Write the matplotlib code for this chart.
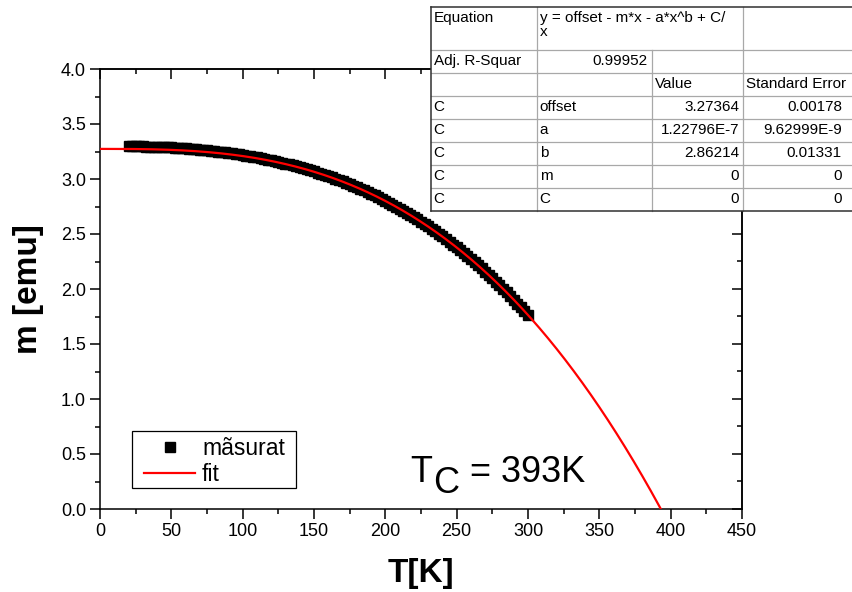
import numpy as np
import matplotlib.pyplot as plt
from matplotlib.ticker import MultipleLocator, AutoMinorLocator

plt.rcParams['font.family'] = ['Liberation Sans', 'DejaVu Sans']

# measured magnetisation vs temperature (every 2.5 K)
T_meas = [20, 22.5, 25, 27.5, 30, 32.5, 35, 37.5, 40, 42.5, 45, 47.5, 50,
          52.5, 55, 57.5, 60, 62.5, 65, 67.5, 70, 72.5, 75, 77.5, 80, 82.5,
          85, 87.5, 90, 92.5, 95, 97.5, 100, 102.5, 105, 107.5, 110, 112.5,
          115, 117.5, 120, 122.5, 125, 127.5, 130, 132.5, 135, 137.5, 140,
          142.5, 145, 147.5, 150, 152.5, 155, 157.5, 160, 162.5, 165, 167.5,
          170, 172.5, 175, 177.5, 180, 182.5, 185, 187.5, 190, 192.5, 195,
          197.5, 200, 202.5, 205, 207.5, 210, 212.5, 215, 217.5, 220, 222.5,
          225, 227.5, 230, 232.5, 235, 237.5, 240, 242.5, 245, 247.5, 250,
          252.5, 255, 257.5, 260, 262.5, 265, 267.5, 270, 272.5, 275, 277.5,
          280, 282.5, 285, 287.5, 290, 292.5, 295, 297.5, 300]
m_meas = [3.298, 3.297, 3.297, 3.296, 3.296, 3.295, 3.295, 3.294, 3.293,
          3.292, 3.291, 3.290, 3.288, 3.286, 3.284, 3.282, 3.280, 3.277,
          3.274, 3.271, 3.268, 3.264, 3.261, 3.257, 3.254, 3.250, 3.246,
          3.242, 3.238, 3.233, 3.229, 3.224, 3.219, 3.213, 3.208, 3.202,
          3.196, 3.190, 3.183, 3.176, 3.169, 3.162, 3.155, 3.147, 3.140,
          3.132, 3.124, 3.115, 3.107, 3.098, 3.089, 3.079, 3.070, 3.059,
          3.049, 3.038, 3.027, 3.015, 3.004, 2.991, 2.979, 2.966, 2.953,
          2.939, 2.926, 2.911, 2.897, 2.882, 2.867, 2.851, 2.835, 2.818,
          2.802, 2.784, 2.767, 2.749, 2.731, 2.712, 2.693, 2.673, 2.653,
          2.632, 2.612, 2.590, 2.569, 2.546, 2.524, 2.501, 2.478, 2.453,
          2.429, 2.404, 2.379, 2.353, 2.327, 2.299, 2.272, 2.244, 2.216,
          2.187, 2.158, 2.127, 2.097, 2.066, 2.035, 2.002, 1.970, 1.936,
          1.903, 1.868, 1.834, 1.798, 1.762]

# fit parameters  y = offset - m*x - a*x^b + C/x
offset = 3.27364
a = 1.22796e-7
b = 2.86214
m_lin = 0
C_inv = 0
Tc = 393

table_rows = [
    ['Equation', 'y = offset - m*x - a*x^b + C/\nx', '', ''],
    ['Adj. R-Squar', '0.99952', '', ''],
    ['', '', 'Value', 'Standard Error'],
    ['C', 'offset', '3.27364', '0.00178'],
    ['C', 'a', '1.22796E-7', '9.62999E-9'],
    ['C', 'b', '2.86214', '0.01331'],
    ['C', 'm', '0', '0'],
    ['C', 'C', '0', '0'],
]

W, H = 853, 592
fig = plt.figure(figsize=(W / 100, H / 100), dpi=100)
ax = fig.add_axes([100 / W, 1 - 509 / H, 642 / W, 440 / H])

T_fit = np.linspace(0.5, 400, 800)
m_fit = offset - m_lin * T_fit - a * T_fit ** b + C_inv / T_fit

ax.plot(T_meas, m_meas, 's', color='black', markersize=6.8, label='mãsurat',
        zorder=2)
ax.plot(T_fit, m_fit, '-', color='red', lw=1.6, label='fit', zorder=3)

ax.set_xlim(0, 450)
ax.set_ylim(0, 4.0)
ax.xaxis.set_major_locator(MultipleLocator(50))
ax.xaxis.set_minor_locator(AutoMinorLocator(2))
ax.yaxis.set_major_locator(MultipleLocator(0.5))
ax.yaxis.set_minor_locator(AutoMinorLocator(2))
ax.yaxis.set_major_formatter(plt.FuncFormatter(lambda v, p: f'{v:.1f}'))
ax.tick_params(which='both', direction='out', width=1.1, labelsize=13,
               top=False, right=False)
ax.tick_params(which='major', length=7, pad=3)
ax.tick_params(which='minor', length=3.6)
for s in ax.spines.values():
    s.set_linewidth(1.1)

# mirrored ticks on top and right, pointing inward
for side in ('top', 'right'):
    if side == 'top':
        sec = ax.secondary_xaxis('top')
        sec.xaxis.set_major_locator(MultipleLocator(50))
        sec.xaxis.set_minor_locator(AutoMinorLocator(2))
    else:
        sec = ax.secondary_yaxis('right')
        sec.yaxis.set_major_locator(MultipleLocator(0.5))
        sec.yaxis.set_minor_locator(AutoMinorLocator(2))
    sec.tick_params(which='both', direction='in', width=1.1,
                    labeltop=False, labelright=False)
    sec.tick_params(which='major', length=7)
    sec.tick_params(which='minor', length=3.6)
    sec.spines[side].set_linewidth(1.1)

ax.set_xlabel('T[K]', fontsize=24, fontweight='bold', va='top')
ax.xaxis.set_label_coords(0.5, -0.112)
ax.set_ylabel('m [emu]', fontsize=24, fontweight='bold')
ax.yaxis.set_label_coords(-0.087, 0.5)

leg = ax.legend(loc='upper left', bbox_to_anchor=(0.0685, 0.164), fontsize=16.5,
                frameon=False, handlelength=2.23, handletextpad=0.3,
                labelspacing=0.15, borderpad=0, borderaxespad=0,
                markerscale=1.15, numpoints=1)

# overlay in pixel coordinates for the legend frame, annotation and fit table
ov = fig.add_axes([0, 0, 1, 1], zorder=10)
ov.set_xlim(0, W)
ov.set_ylim(H, 0)
ov.axis('off')
ov.patch.set_alpha(0)

ov.add_patch(plt.Rectangle((131.7, 430.7), 164, 57, facecolor='none',
                           edgecolor='black', lw=0.9))

ov.text(410, 482, 'T', fontsize=26, va='baseline', ha='left')
ov.text(433, 493, 'C', fontsize=26, va='baseline', ha='left')
ov.text(470, 482, f'= {Tc}K', fontsize=26, va='baseline', ha='left')

col_x = [430.7, 536.7, 652, 743, 846]
row_y = [7.3, 50] + [50 + 22.96 * (i + 1) for i in range(7)]
ov.add_patch(plt.Rectangle((col_x[0], row_y[0]), W - col_x[0] + 5,
                           row_y[-1] - row_y[0], facecolor='white',
                           edgecolor='none', zorder=1))
grey = '#a8a8a8'
for y in row_y[1:-1]:
    ov.plot([col_x[0], W + 5], [y, y], color=grey, lw=0.9, zorder=2)
for i, x in enumerate(col_x[1:4], start=1):
    for r in range(len(table_rows)):
        if r == 0 and i == 2:
            continue
        ov.plot([x, x], [row_y[r], row_y[r + 1]], color=grey, lw=0.9, zorder=2)
ov.plot([col_x[0], W + 5], [row_y[0], row_y[0]], color='#303030', lw=1.1, zorder=3)
ov.plot([col_x[0], W + 5], [row_y[-1], row_y[-1]], color='#303030', lw=1.1, zorder=3)
ov.plot([col_x[0], col_x[0]], [row_y[0], row_y[-1]], color='#303030', lw=1.1, zorder=3)

fs = 11
for r, row in enumerate(table_rows):
    yc = (row_y[r] + row_y[r + 1]) / 2
    for c, txt in enumerate(row):
        if not txt:
            continue
        if r == 0:
            ov.text(col_x[c] + 3, row_y[r] + 4, txt, fontsize=fs, ha='left',
                    va='top', linespacing=0.95, zorder=4)
            continue
        numeric = txt[0].isdigit()
        if numeric:
            ov.text(col_x[c + 1] - 4, yc, txt, fontsize=fs, ha='right',
                    va='center', zorder=4)
        else:
            ov.text(col_x[c] + 3, yc, txt, fontsize=fs, ha='left',
                    va='center', zorder=4)

fig.savefig('out.png', dpi=100)
